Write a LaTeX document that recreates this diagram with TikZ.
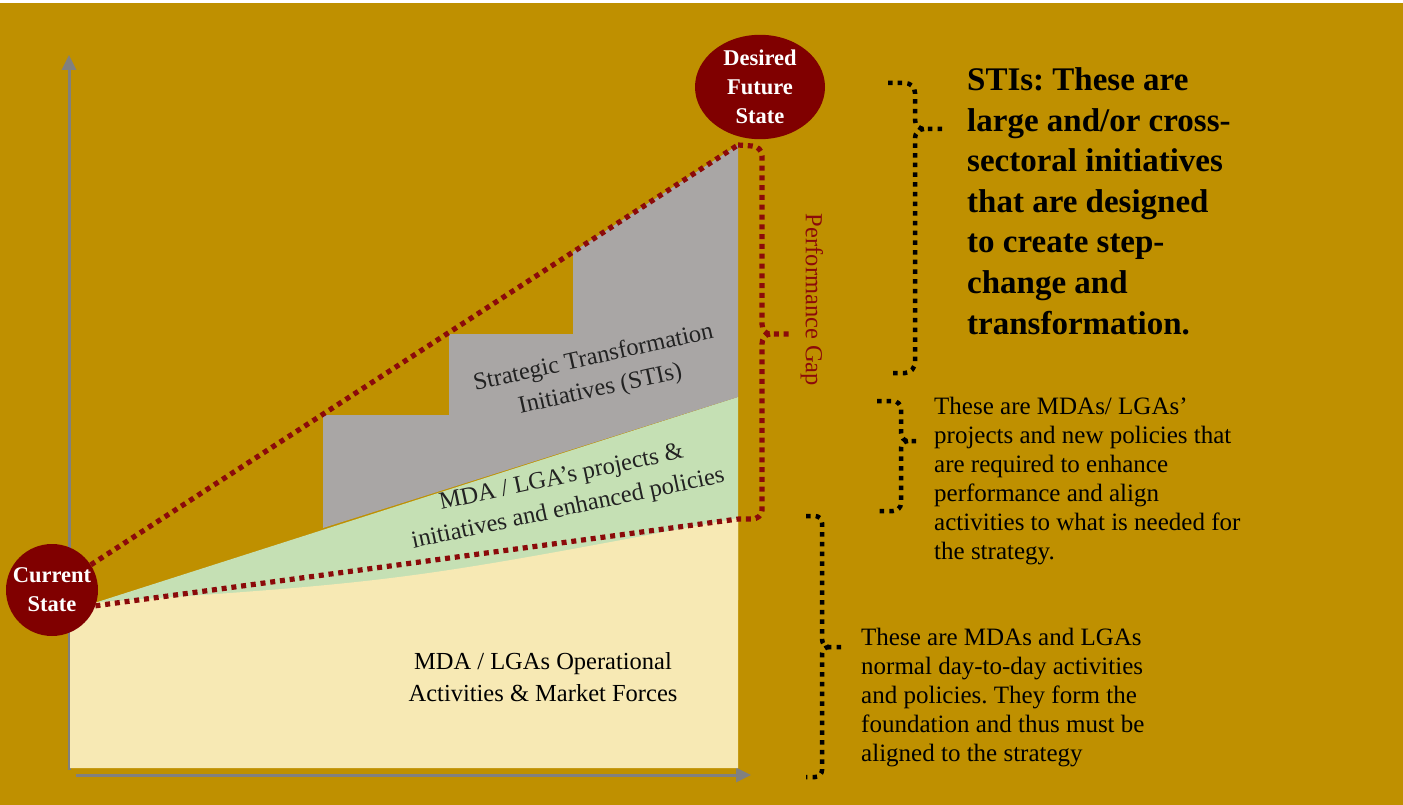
\documentclass[tikz,border=0pt]{standalone}
\usepackage{fontspec}
\setmainfont{Liberation Serif}
\frenchspacing
\usetikzlibrary{arrows.meta,shapes.geometric}
\definecolor{bg}{HTML}{BF9000}
\definecolor{stigray}{HTML}{A9A6A5}
\definecolor{mdagreen}{HTML}{C5E0B4}
\definecolor{opyellow}{HTML}{F7E9B4}
\definecolor{dred}{HTML}{800000}
\definecolor{dotred}{HTML}{8B0A0A}
\definecolor{axisgray}{HTML}{808080}
\definecolor{txt}{HTML}{222222}
\tikzset{
  reddots/.style={draw=dotred, line width=5.2pt, dash pattern=on 5pt off 4.8pt},
  blackdots/.style={draw=black, line width=4.5pt, dash pattern=on 4.5pt off 5.2pt},
  axisline/.style={draw=axisgray, line width=3pt, -{Triangle[width=14pt,length=15pt]}},
  statenode/.style={fill=dred, text=white, font=\bfseries\fontsize{22.5}{29}\selectfont, align=center, inner sep=0pt},
  charttext/.style={text=txt, font=\fontsize{24.5}{32}\selectfont, align=center, inner sep=0pt},
  sidetext/.style={text=black, font=\fontsize{25}{29}\selectfont, align=left, anchor=west, inner sep=0pt},
}
\begin{document}
\begin{tikzpicture}[x=1pt,y=-1pt]
\useasboundingbox (0,0) rectangle (1403,805);
\fill[bg] (0,0) rectangle (1403,805);
\fill[white] (0,0) rectangle (1403,3);

% axes
\coordinate (ytip) at (69,55);
\coordinate (xtip) at (751,775);
\draw[axisline] (69,770) -- (ytip);
\draw[axisline] (76,775) -- (xtip);

% green band
\fill[mdagreen] (85,606) -- (738,397) -- (738,600) -- (85,630) -- cycle;
% yellow base
\fill[opyellow] (69,604) .. controls (400,582) .. (738,518) -- (738,768) -- (69,768) -- cycle;
\draw[axisgray, line width=0.8pt] (69,604) -- (69,770);
% gray staircase
\fill[stigray] (323,528) -- (323,415) -- (449,415) -- (449,334) -- (573,334) -- (573,252) -- (738,145) -- (738,397) -- cycle;

% chart texts
\node[charttext, rotate=12.5] (sti) at (597,374) {Strategic Transformation\\Initiatives (STIs)};
\node[charttext, rotate=12] (mda) at (565,494) {MDA / LGA’s projects \&\\initiatives and enhanced policies};
\node[charttext, text=black] (ops) at (543,677) {MDA / LGAs Operational\\Activities \& Market Forces};

% state nodes
\node[statenode, circle, minimum size=92pt] (cs) at (52,590) {Current\\State};
\node[statenode, ellipse, minimum width=130pt, minimum height=90pt] (dfs) at (760,87) {Desired\\Future\\State};

% red dotted performance lines
\coordinate (gtop) at (738,145);
\coordinate (gbot) at (738,519);
\draw[reddots] (cs) -- (gtop);
\draw[reddots] (cs.-20) -- (gbot);
\draw[reddots] (gtop) -- (752,146) to[out=0,in=90] (762,156) -- (762,324) to[out=-90,in=180] (770,334) -- (792,334);
\draw[reddots] (770,334) to[out=180,in=90] (762,344) -- (762,510) to[out=-90,in=0] (752,519) -- (gbot);
\node[text=dotred, font=\fontsize{24.5}{28}\selectfont, rotate=-90, inner sep=0pt] (gap) at (812,300) {Performance Gap};

% brackets
\draw[blackdots] (888,83) -- (905,83) to[out=0,in=90] (915,93) -- (915,120) to[out=-90,in=180] (924,129) -- (943,129);
\draw[blackdots] (924,129) to[out=180,in=90] (915,138) -- (915,362) to[out=-90,in=0] (905,373) -- (888,373);

\draw[blackdots] (877,401) -- (893,401) to[out=0,in=90] (901,409) -- (901,433) to[out=-90,in=180] (908,441) -- (921,441);
\draw[blackdots] (908,441) to[out=180,in=90] (901,448) -- (901,503) to[out=-90,in=0] (893,511) -- (877,511);

\draw[blackdots] (806,516) -- (815,516) to[out=0,in=90] (822,523) -- (822,639) to[out=-90,in=180] (829,647) -- (841,647);
\draw[blackdots] (829,647) to[out=180,in=90] (822,654) -- (822,770) to[out=-90,in=0] (815,777) -- (806,777);

% side texts
\node[sidetext, font=\bfseries\fontsize{33}{40.6}\selectfont] (t1) at (967,201) {STIs: These are\\large and/or cross-\\sectoral initiatives\\that are designed\\to create step-\\change and\\transformation.};
\node[sidetext] (t2) at (934,481) {These are MDAs/ LGAs’\\projects and new policies that\\are required to enhance\\performance and align\\activities to what is needed for\\the strategy.};
\node[sidetext] (t3) at (861,698) {These are MDAs and LGAs\\normal day-to-day activities\\and policies. They form the\\foundation and thus must be\\aligned to the strategy};
\end{tikzpicture}
\end{document}
